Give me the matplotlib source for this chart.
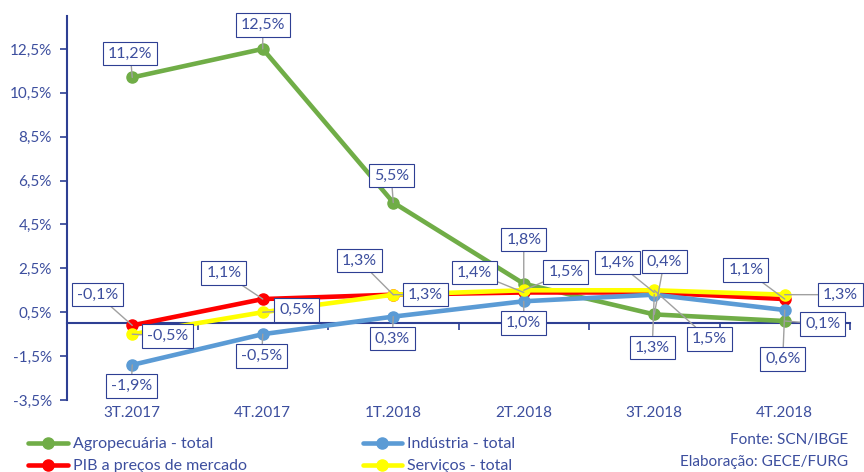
import matplotlib
matplotlib.use("Agg")
import matplotlib.pyplot as plt

# quarters and growth rates (%)
quarters = ["3T.2017", "4T.2017", "1T.2018", "2T.2018", "3T.2018", "4T.2018"]
agro = [11.2, 12.5, 5.5, 1.8, 0.4, 0.1]
pib = [-0.1, 1.1, 1.3, 1.4, 1.4, 1.1]
industria = [-1.9, -0.5, 0.3, 1.0, 1.3, 0.6]
servicos = [-0.5, 0.5, 1.3, 1.5, 1.5, 1.3]

# label offsets in pixels (placement only)
off_agro = [(-2, 24), (0, 24), (-2, 27), (0, 44), (10, 53), (38, -3)]
off_pib = [(-35, 31), (-39, 26), (-34, 34), (-49, 20), (-37, 30), (-39, 29)]
off_ind = [(-1, -21), (-1, -22), (-1, -22), (0, -22), (-2, -53), (-2, -49)]
off_serv = [(35, -2), (34, 2), (32, 0), (42, 18), (55, -49), (56, 0)]

TXT = "#3C4E9E"
AXC = "#2E3F93"
plt.rcParams["font.family"] = ["Lato", "DejaVu Sans"]

fig = plt.figure(figsize=(8.64, 4.72), dpi=100)
ax = fig.add_axes([67 / 864, 72 / 472, 783 / 864, 384 / 472])

x = list(range(len(quarters)))
series = [
    ("Agropecuária - total", agro, "#70AD47", off_agro),
    ("PIB a preços de mercado", pib, "#FF0000", off_pib),
    ("Indústria - total", industria, "#5B9BD5", off_ind),
    ("Serviços - total", servicos, "#FFFF00", off_serv),
]
handles = []
for name, vals, col, _ in series:
    h, = ax.plot(x, vals, color=col, lw=3.3, marker="o", ms=8, label=name,
                 solid_capstyle="round")
    handles.append(h)

for name, vals, col, offs in series:
    for xi, v, o in zip(x, vals, offs):
        ax.annotate(f"{v:.1f}%".replace(".", ","), (xi, v), xytext=o,
                    textcoords="offset pixels", ha="center", va="center",
                    fontsize=11.5, color=TXT, annotation_clip=False,
                    bbox=dict(boxstyle="square,pad=0.3", fc="white", ec=AXC, lw=0.8),
                    arrowprops=dict(arrowstyle="-", color="#A0A0A0", lw=1,
                                    shrinkA=0, shrinkB=0))

ax.set_xlim(-0.5, 5.5)
ax.set_ylim(-3.5, 14.0)
yt = [-3.5 + 2 * i for i in range(9)]
ax.set_yticks(yt)
ax.set_yticklabels([f"{t:.1f}%".replace(".", ",") for t in yt])
ax.set_xticks(x)
ax.set_xticklabels(quarters)
ax.tick_params(axis="x", length=0, pad=4, labelsize=11, labelcolor=TXT)
ax.tick_params(axis="y", length=5, width=1.2, color=AXC, pad=6, labelsize=11, labelcolor=TXT)
for s in ["top", "right", "bottom"]:
    ax.spines[s].set_visible(False)
ax.spines["left"].set_color(AXC)
ax.spines["left"].set_linewidth(1.5)

# horizontal axis line at zero with tick marks between quarters
sec = ax.secondary_xaxis(0, transform=ax.transData)
sec.set_xticks([i - 0.5 for i in range(1, 7)])
sec.set_xticklabels([])
sec.tick_params(length=5, width=1.2, color=AXC, direction="out")
sec.spines["bottom"].set_color(AXC)
sec.spines["bottom"].set_linewidth(1.5)

fig.legend(handles=handles, loc="upper left", bbox_to_anchor=(28 / 864, 1 - 437 / 472),
           ncol=2, frameon=False, fontsize=11.5, labelcolor=TXT, handlelength=2.5,
           handletextpad=0.3, columnspacing=7.25, labelspacing=0.5, borderaxespad=0,
           borderpad=0)

fig.text(848 / 864, 1 - 440 / 472, "Fonte: SCN/IBGE", ha="right", va="center",
         fontsize=11, color=TXT)
fig.text(848 / 864, 1 - 462 / 472, "Elaboração: GECE/FURG", ha="right", va="center",
         fontsize=11, color=TXT)

fig.savefig("out.png", dpi=100)
